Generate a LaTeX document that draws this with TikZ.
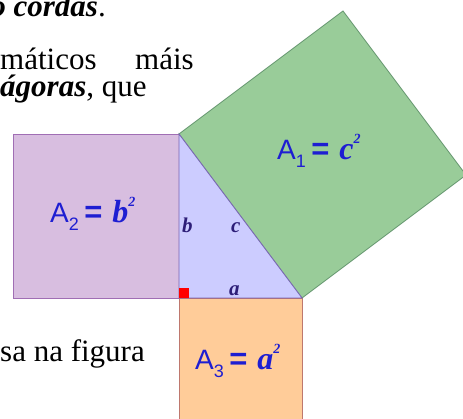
\documentclass[tikz,border=0pt]{standalone}
\usepackage{fontspec}
\setmainfont{Liberation Serif}
\setsansfont{Liberation Sans}
\definecolor{purpfill}{RGB}{216,190,224}
\definecolor{purpline}{RGB}{160,110,180}
\definecolor{trifill}{RGB}{204,204,255}
\definecolor{triline}{RGB}{120,100,180}
\definecolor{greenfill}{RGB}{153,204,153}
\definecolor{greenline}{RGB}{100,150,110}
\definecolor{orfill}{RGB}{255,204,153}
\definecolor{orline}{RGB}{190,120,110}
\definecolor{labblue}{RGB}{30,30,210}
\definecolor{sidecol}{RGB}{45,30,120}
\tikzset{
  bodytext/.style={inner sep=0pt, font=\fontsize{31}{33}\selectfont, text=black, text height=0.62em, text depth=0.2em},
  arealab/.style={inner sep=0pt, text=labblue, font=\fontsize{28}{32}\selectfont\sffamily},
  sidelab/.style={inner sep=0pt, text=sidecol, font=\fontsize{21}{24}\selectfont\bfseries\itshape},
}
\newcommand{\arealabel}[2]{A\raisebox{-0.28em}{\fontsize{18}{18}\selectfont #1}\hspace{0.2em}{\bfseries\fontsize{31}{32}\selectfont=}\hspace{0.35em}{\rmfamily\bfseries\itshape\fontsize{32}{32}\selectfont #2\raisebox{0.5em}{\fontsize{14}{14}\selectfont 2}}}
\begin{document}
\begin{tikzpicture}[x=1pt,y=-1pt]
\useasboundingbox (0,0) rectangle (463,419);
\clip (0,0) rectangle (463,419);
% points
\coordinate (C) at (179,298);
\coordinate (B) at (179,134);
\coordinate (A) at (302,298);
\coordinate (G1) at (343,11);
\coordinate (G2) at (466,175);
% squares
\filldraw[fill=purpfill, draw=purpline, line width=0.8pt] (13,134) rectangle (C);
\filldraw[fill=orfill, draw=orline, line width=0.8pt] (C) rectangle (302,421);
\filldraw[fill=greenfill, draw=greenline, line width=0.8pt] (B) -- (A) -- (G2) -- (G1) -- cycle;
\filldraw[fill=trifill, draw=triline, line width=0.8pt] (C) -- (B) -- (A) -- cycle;
\fill[red] (179,288) rectangle (189,298);
% side labels
\node[sidelab, anchor=base west] (lb) at (182,233) {b};
\node[sidelab, anchor=base west] (lc) at (231,233) {c};
\node[sidelab, anchor=base west] (la) at (229,296) {a};
% area labels
\node[arealab, anchor=base west] (A2) at (50,223) {\arealabel{2}{b}};
\node[arealab, anchor=base west] (A1) at (277,160) {\arealabel{1}{c}};
\node[arealab, anchor=base west] (A3) at (195,370) {\arealabel{3}{a}};
% body text
\node[bodytext, anchor=base east] (t1) at (106,17) {\textbf{\textit{o cordas}}.};
\node[bodytext, anchor=base west] (t2a) at (0,70) {máticos};
\node[bodytext, anchor=base west] (t2b) at (135,70) {máis};
\node[bodytext, anchor=base west] (t3) at (0,97) {\textbf{\textit{ágoras}}, que};
\node[bodytext, anchor=base west] (t4) at (0,362) {sa na figura};
\end{tikzpicture}
\end{document}
